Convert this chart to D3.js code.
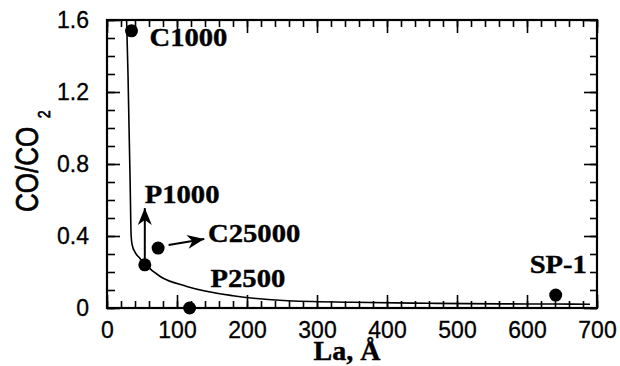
<!DOCTYPE html>
<html><head><meta charset="utf-8">
<script src="https://cdn.jsdelivr.net/npm/d3@7/dist/d3.min.js"></script>
<style>body{margin:0;background:#fff}</style>
</head><body>
<svg id="chart" width="620" height="366"></svg>
<script>
// ---- data ----
const sampleNames = ["C1000", "P1000", "C25000", "P2500", "SP-1"];
const sampleLa = [35, 54, 73, 118, 641];
const sampleRatio = [1.54, 0.24, 0.333, 0, 0.072];
const curveLa = [28, 30, 31.5, 33, 34.5, 36, 40, 46, 54, 76, 114, 180, 252, 350, 460, 560, 640, 690];
const curveRatio = [1.6, 1.3, 1.0, 0.71, 0.40, 0.35, 0.31, 0.28, 0.245, 0.175, 0.12, 0.068, 0.042, 0.032, 0.026, 0.023, 0.022, 0.021];
const xTickValues = [0, 100, 200, 300, 400, 500, 600, 700];
const yTickValues = [0, 0.4, 0.8, 1.2, 1.6];
const yTickLabels = ["0", "0.4", "0.8", "1.2", "1.6"];
// arrows: from (La, ratio) to (La, ratio)
const arrowFromLa = [54, 88];
const arrowFromRatio = [0.26, 0.35];
const arrowToLa = [54, 139];
const arrowToRatio = [0.555, 0.383];

// ---- layout ----
const svg = d3.select("#chart");
const L = 107, R = 597, T = 20, B = 308;
const x = d3.scaleLinear().domain([0, 700]).range([L, R]);
const y = d3.scaleLinear().domain([0, 1.6]).range([B, T]);
const sans = "'Liberation Sans', Arial, Helvetica, sans-serif";
const serif = "'Liberation Serif', 'Times New Roman', serif";

const minorX = d3.range(0, 701, 20);
const minorY = d3.range(0, 16.01, 1).map(d => d / 10);

// axes with inward ticks on all four sides
const g = svg.append("g");
function drawAxis(axis, transform) {
  const a = g.append("g").attr("transform", transform).call(axis);
  a.selectAll("path").remove();
  a.selectAll("line").attr("stroke", "#000").attr("stroke-width", 1.6);
  return a;
}
drawAxis(d3.axisBottom(x).tickValues(minorX).tickSize(-7).tickFormat(""), `translate(0,${B})`);
drawAxis(d3.axisBottom(x).tickValues(xTickValues).tickSize(-13).tickFormat(""), `translate(0,${B})`);
drawAxis(d3.axisTop(x).tickValues(minorX).tickSize(-7).tickFormat(""), `translate(0,${T})`);
drawAxis(d3.axisTop(x).tickValues(xTickValues).tickSize(-13).tickFormat(""), `translate(0,${T})`);
drawAxis(d3.axisLeft(y).tickValues(minorY).tickSize(-8).tickFormat(""), `translate(${L},0)`);
drawAxis(d3.axisLeft(y).tickValues(yTickValues).tickSize(-13).tickFormat(""), `translate(${L},0)`);
drawAxis(d3.axisRight(y).tickValues(minorY).tickSize(-7).tickFormat(""), `translate(${R},0)`);
drawAxis(d3.axisRight(y).tickValues(yTickValues).tickSize(-13).tickFormat(""), `translate(${R},0)`);

// tick labels
const xl = drawAxis(d3.axisBottom(x).tickValues(xTickValues).tickSize(0).tickPadding(14).tickFormat(d => String(d)), `translate(0,${B})`);
xl.selectAll("text").attr("font-family", sans).attr("font-size", 23).attr("fill", "#000")
  .attr("stroke", "#000").attr("stroke-width", 0.3);
const yl = drawAxis(d3.axisLeft(y).tickValues(yTickValues).tickSize(0).tickPadding(18).tickFormat((d, i) => yTickLabels[i]), `translate(${L},0)`);
yl.selectAll("text").attr("font-family", sans).attr("font-size", 23).attr("fill", "#000")
  .attr("stroke", "#000").attr("stroke-width", 0.3);

// frame
g.append("rect").attr("x", L).attr("y", T).attr("width", R - L).attr("height", B - T)
  .attr("fill", "none").attr("stroke", "#000").attr("stroke-width", 2.2);

// curve
const line = d3.line().x(d => x(d[0])).y(d => y(d[1])).curve(d3.curveMonotoneX);
svg.append("path").datum(curveLa.map((v, i) => [v, curveRatio[i]]))
  .attr("d", line).attr("fill", "none").attr("stroke", "#000").attr("stroke-width", 1.6);

// arrows
svg.append("defs").append("marker").attr("id", "arr")
  .attr("viewBox", "-18 -8 19 16").attr("refX", 0).attr("refY", 0)
  .attr("markerWidth", 19).attr("markerHeight", 16).attr("markerUnits", "userSpaceOnUse")
  .attr("orient", "auto")
  .append("path").attr("d", "M0,0 L-17,-7 L-12,0 L-17,7 Z").attr("fill", "#000");
arrowFromLa.forEach((v, i) => {
  svg.append("line")
    .attr("x1", x(v)).attr("y1", y(arrowFromRatio[i]))
    .attr("x2", x(arrowToLa[i])).attr("y2", y(arrowToRatio[i]))
    .attr("stroke", "#000").attr("stroke-width", 2).attr("marker-end", "url(#arr)");
});

// points
svg.selectAll("circle.pt").data(sampleLa).enter().append("circle")
  .attr("class", "pt").attr("cx", d => x(d)).attr("cy", (d, i) => y(sampleRatio[i]))
  .attr("r", 6.5).attr("fill", "#000");

// sample labels (offsets in px from the point)
const labelDx = [18, 0, 50, 21, -26];
const labelDy = [15, -62, -6, -21, -22];
svg.selectAll("text.lab").data(sampleNames).enter().append("text")
  .attr("class", "lab")
  .attr("x", (d, i) => x(sampleLa[i]) + labelDx[i])
  .attr("y", (d, i) => y(sampleRatio[i]) + labelDy[i])
  .attr("font-family", serif).attr("font-weight", "bold").attr("font-size", 26)
  .attr("fill", "#000").attr("stroke", "#000").attr("stroke-width", 0.4).text(d => d)
  .each(function () {
    const w = this.getComputedTextLength();
    d3.select(this).attr("textLength", w * 1.1).attr("lengthAdjust", "spacingAndGlyphs");
  });

// axis titles
svg.append("text").attr("x", 347).attr("y", 360).attr("text-anchor", "middle")
  .attr("font-family", serif).attr("font-weight", "bold").attr("font-size", 28)
  .attr("fill", "#000").attr("stroke", "#000").attr("stroke-width", 0.4).text("La, Å");

const yt = svg.append("text")
  .attr("transform", "translate(38,212) rotate(-90) scale(0.84,1)")
  .attr("text-anchor", "start")
  .attr("font-family", sans).attr("font-size", 31).attr("fill", "#000")
  .attr("stroke", "#000").attr("stroke-width", 0.7);
yt.append("tspan").text("CO/CO");
yt.append("tspan").attr("dx", 10).attr("dy", 12).attr("font-size", 17).text("2");
</script>
</body></html>
